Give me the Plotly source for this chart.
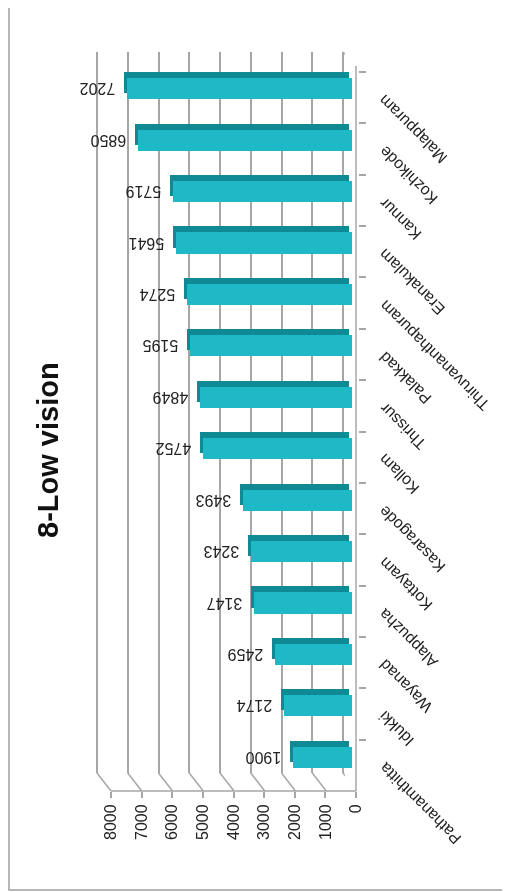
import plotly.graph_objects as go

# ---- data ----
districts = ["Malappuram", "Kozhikode", "Kannur", "Eranakulam", "Thiruvananthapuram",
             "Palakkad", "Thrissur", "Kollam", "Kasaragode", "Kottayam", "Alappuzha",
             "Wayanad", "Idukki", "Pathanamthitta"]
low_vision = [7202, 6850, 5719, 5641, 5274, 5195, 4849, 4752, 3493, 3243, 3147, 2459, 2174, 1900]
value_ticks = [0, 1000, 2000, 3000, 4000, 5000, 6000, 7000, 8000]
title_text = "8-Low vision"

# page body has an 8px margin; figure sized to fit the 510x892 window
OFF = 8
W, H = 510 - OFF, 892 - OFF
def fx(px): return (px - OFF) / W
def fy(py): return 1 - (py - OFF) / H

FRONT = "#1EB8C6"
TOP = "#0F8A94"
GRID = "#A6A6A6"
FONT = "Liberation Sans"
TXT = "#222222"

n = len(districts)
cat_range = [n - 0.5, -0.5]
VMAX = value_ticks[-1]
PAD = 60  # small range padding so edge gridlines are drawn
vrange = [VMAX + PAD, -PAD]

def xdom(px_max_val, px_zero):
    # domain so that VMAX sits at px_max_val and 0 at px_zero, with padded range
    ppu = (px_zero - px_max_val) / VMAX
    return [fx(px_max_val - PAD * ppu), fx(px_zero + PAD * ppu)]

fig = go.Figure()

# subplot 1: back wall gridlines
fig.add_trace(go.Scatter(x=low_vision, y=districts, mode="markers", opacity=0,
                         hoverinfo="skip", showlegend=False, xaxis="x", yaxis="y"))
# subplot 2: top face of bars (dark)
fig.add_trace(go.Bar(x=low_vision, y=districts, orientation="h", width=0.41,
                     marker=dict(color=TOP, line=dict(width=0)), hoverinfo="skip",
                     showlegend=False, xaxis="x2", yaxis="y2"))
# subplot 3: front face of bars with labels
fig.add_trace(go.Bar(x=low_vision, y=districts, orientation="h", width=0.41,
                     marker=dict(color=FRONT, line=dict(width=0)),
                     texttemplate="\u00a0\u00a0%{x}", textposition="outside",
                     textangle=180, cliponaxis=False,
                     textfont=dict(family=FONT, size=16, color=TXT),
                     showlegend=False, xaxis="x3", yaxis="y3"))
# subplot 4: front axes
fig.add_trace(go.Scatter(x=low_vision, y=districts, mode="markers", opacity=0,
                         hoverinfo="skip", showlegend=False, xaxis="x4", yaxis="y4"))

hidden = dict(showgrid=False, zeroline=False, showline=False, showticklabels=False,
              ticks="", automargin=False)

layout = dict(
    width=W, height=H, margin=dict(l=0, r=0, t=0, b=0, autoexpand=False),
    paper_bgcolor="white", plot_bgcolor="rgba(0,0,0,0)",
    font=dict(family=FONT, color=TXT),
    showlegend=False, bargap=0,
    xaxis=dict(domain=xdom(97, 343), range=vrange, tickvals=value_ticks,
               showgrid=True, gridcolor=GRID, gridwidth=1.5, zeroline=False,
               showline=False, showticklabels=False, ticks="", anchor="y",
               automargin=False),
    yaxis=dict(domain=[fy(773), fy(52)], range=cat_range, type="category",
               categoryarray=districts, anchor="x", **hidden),
    xaxis2=dict(domain=xdom(99, 349), range=vrange, anchor="y2", **hidden),
    yaxis2=dict(domain=[fy(777), fy(57)], range=cat_range, type="category",
                categoryarray=districts, anchor="x2", **hidden),
    xaxis3=dict(domain=xdom(102, 352), range=vrange, anchor="y3", **hidden),
    yaxis3=dict(domain=[fy(783), fy(63)], range=cat_range, type="category",
                categoryarray=districts, anchor="x3", **hidden),
    xaxis4=dict(domain=xdom(111, 356), range=vrange, anchor="y4", side="bottom",
                tickvals=value_ticks, tickangle=-90, showline=False,
                ticks="outside", ticklen=6, tickcolor=GRID, tickwidth=1.5,
                showgrid=False, zeroline=False, automargin=False,
                tickfont=dict(family=FONT, size=16, color=TXT)),
    yaxis4=dict(domain=[fy(791), fy(72)], range=cat_range, type="category",
                categoryarray=districts, anchor="x4", side="right", tickson="boundaries",
                showline=False, ticks="outside", ticklen=7,
                tickcolor=GRID, tickwidth=1.5, showgrid=False, zeroline=False,
                showticklabels=False, automargin=False),
)
fig.update_layout(**layout)

LN = dict(color=GRID, width=1.5)
shapes = []
# chart border (right edge falls outside the view)
shapes.append(dict(type="rect", xref="paper", yref="paper", x0=fx(9), x1=fx(560),
                   y0=fy(890), y1=fy(6), line=dict(color="#A0A0A0", width=1.5)))
# floor connectors from back wall to front axis
for v in value_ticks:
    shapes.append(dict(type="line", xref="x", xsizemode="pixel", xanchor=v, x0=0, x1=14,
                       yref="paper", y0=fy(773), y1=fy(791), line=LN))
# front value axis line
shapes.append(dict(type="line", xref="x4", x0=VMAX, x1=0, yref="paper",
                   y0=fy(791), y1=fy(791), line=LN))
# front category axis line and top-right connector
shapes.append(dict(type="line", xref="x4", x0=0, x1=0, yref="paper",
                   y0=fy(791), y1=fy(66), line=LN))
shapes.append(dict(type="line", xref="x", xsizemode="pixel", xanchor=0,
                   x0=0, x1=13, yref="paper", y0=fy(52), y1=fy(66), line=LN))
fig.update_layout(shapes=shapes)

# category labels (upside-down, slanted), anchored by rotated bounding box
for d in districts:
    fig.add_annotation(text=d, xref="paper", yref="y4", x=fx(373), y=d,
                       xanchor="left", yanchor="top", yshift=9, textangle=-135,
                       showarrow=False, font=dict(family=FONT, size=16, color=TXT))

fig.add_annotation(text=f"<b>{title_text}</b>", xref="paper", yref="paper",
                   x=fx(48), y=fy(450), xanchor="center", yanchor="middle",
                   textangle=-90, showarrow=False,
                   font=dict(family=FONT, size=29, color="#111111"))

fig.write_html("out.html")
